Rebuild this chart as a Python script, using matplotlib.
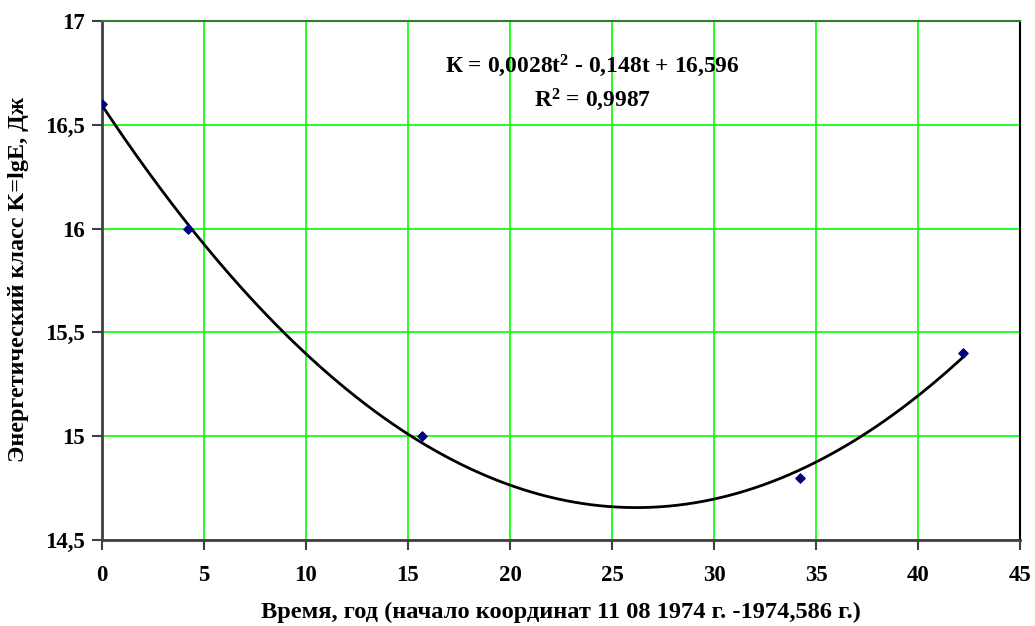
import numpy as np
import matplotlib
matplotlib.use("Agg")
import matplotlib.pyplot as plt
from matplotlib.ticker import FuncFormatter

# Data
t_years = [0.0, 4.2, 15.7, 34.2, 42.2]
k_class = [16.6, 16.0, 15.0, 14.8, 15.4]
x_ticks = [0, 5, 10, 15, 20, 25, 30, 35, 40, 45]
y_ticks = [14.5, 15.0, 15.5, 16.0, 16.5, 17.0]
eq_text = "К = 0,0028t$^{2}$ - 0,148t + 16,596"
r2_text = "R$^{2}$ = 0,9987"
x_label = "Время, год (начало координат 11 08 1974 г. -1974,586 г.)"
y_label = "Энергетический класс K=lgE, Дж"

plt.rcParams['font.family'] = ['Liberation Serif', 'DejaVu Serif']
plt.rcParams['font.weight'] = 'bold'
plt.rcParams['mathtext.default'] = 'regular'

fig = plt.figure(figsize=(10.35, 6.26), dpi=100)
ax = fig.add_axes([102/1035, 1 - 540/626, (1020-102)/1035, (540-21)/626])

# polynomial trend line (2nd order) fitted to the points
coef = np.polyfit(t_years, k_class, 2)
tt = np.linspace(min(t_years), max(t_years), 300)
ax.plot(tt, np.polyval(coef, tt), color='black', lw=2, zorder=3)
ax.scatter(t_years, k_class, marker='D', s=22, color='#000080', zorder=4)

ax.set_xlim(0, 45)
ax.set_ylim(14.5, 17)
ax.set_xticks(x_ticks)
ax.set_yticks(y_ticks)
ax.yaxis.set_major_formatter(FuncFormatter(lambda v, p: ('%g' % v).replace('.', ',')))
ax.grid(True, color='#00ff00', lw=1.2, zorder=1)
ax.set_axisbelow(True)

for s in ['left', 'bottom']:
    ax.spines[s].set_color('#404040')
    ax.spines[s].set_linewidth(2)
ax.spines['right'].set_color('black')
ax.spines['right'].set_linewidth(1.5)
ax.spines['top'].set_color('#2e7d32')
ax.spines['top'].set_linewidth(1.5)

ax.tick_params(axis='both', direction='out', length=7, width=1.5, color='#404040',
               labelsize=16.5, pad=5)
for lbl in ax.get_xticklabels() + ax.get_yticklabels():
    lbl.set_fontweight('bold')
ax.tick_params(axis='x', pad=11)

ax.set_xlabel(x_label, fontsize=17.6, fontweight='bold')
ax.set_ylabel(y_label, fontsize=17.4, fontweight='bold')
ax.xaxis.label.set_va('center')
ax.yaxis.label.set_va('center')
ax.xaxis.set_label_coords(0.5, -0.139)
ax.yaxis.set_label_coords(-0.0905, 0.503)

ax.text(0.534, 0.913, eq_text, transform=ax.transAxes, ha='center', va='center',
        fontsize=16.9, fontweight='bold')
ax.text(0.534, 0.848, r2_text, transform=ax.transAxes, ha='center', va='center',
        fontsize=16.9, fontweight='bold')

fig.savefig('out.png', dpi=100)
